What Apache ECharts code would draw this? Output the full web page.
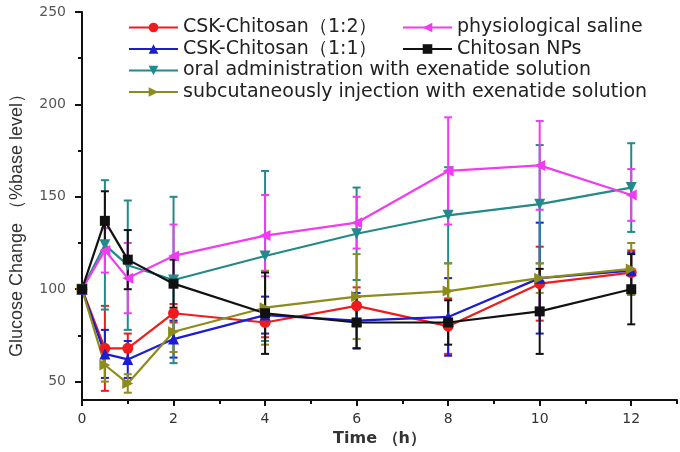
<!DOCTYPE html>
<html><head><meta charset="utf-8">
<script src="https://cdn.jsdelivr.net/npm/echarts@6/dist/echarts.min.js"></script>
<style>html,body{margin:0;padding:0;background:#fff}#c{width:680px;height:452px}</style>
</head><body><div id="c"></div>
<script>
const times = [0, 0.5, 1, 2, 4, 6, 8, 10, 12];
const yTickValues = [50, 100, 150, 200, 250];
const yMinorValues = [75, 125, 175, 225];
const xTickValues = [0, 2, 4, 6, 8, 10, 12];
const xMinorValues = [1, 3, 5, 7, 9, 11, 13];

const namesList = [
  'CSK-Chitosan（1:2）',
  'CSK-Chitosan（1:1）',
  'oral administration with exenatide solution',
  'subcutaneously injection with exenatide solution',
  'physiological saline',
  'Chitosan NPs'
];

const csk12 = [100, 68, 68, 87, 82, 91, 80, 103, 109];
const csk12Err = [0, 23, 8, 5, 8, 10, 15, 20, 12];
const csk11 = [100, 65, 62, 73, 86, 83, 85, 106, 110];
const csk11Err = [0, 13, 10, 10, 10, 15, 21, 30, 10];
const oral = [100, 124, 113, 105, 118, 130, 140, 146, 155];
const oralErr = [0, 35, 35, 45, 46, 25, 26, 32, 24];
const subq = [100, 59, 49, 77, 90, 96, 99, 106, 111];
const subqErr = [0, 9, 5, 11, 20, 23, 15, 8, 14];
const saline = [100, 121, 106, 118, 129, 136, 164, 167, 151];
const salineErr = [0, 12, 19, 17, 22, 14, 29, 24, 14];
const nps = [100, 137, 116, 103, 87, 82, 82, 88, 100];
const npsErr = [0, 16, 16, 13, 22, 14, 12, 23, 19];

const groups = [
  {name: namesList[0], vals: csk12, err: csk12Err, color: '#ee1c1c', symbol: 'circle', size: 11},
  {name: namesList[1], vals: csk11, err: csk11Err, color: '#1c1cd0', symbol: 'triangle', size: 11},
  {name: namesList[2], vals: oral, err: oralErr, color: '#23898a', symbol: 'path://M0,0 L10,0 L5,10 Z', size: 11},
  {name: namesList[3], vals: subq, err: subqErr, color: '#8c8c1c', symbol: 'path://M0,0 L10,5 L0,10 Z', size: 11},
  {name: namesList[4], vals: saline, err: salineErr, color: '#f03cf0', symbol: 'path://M10,0 L0,5 L10,10 Z', size: 11},
  {name: namesList[5], vals: nps, err: npsErr, color: '#111111', symbol: 'rect', size: 10}
];

const series = [];
groups.forEach(g => {
  series.push({
    type: 'custom',
    name: g.name + ' err',
    xAxisIndex: 0, yAxisIndex: 0,
    data: times.map((t, i) => [t, g.vals[i] - g.err[i], g.vals[i] + g.err[i]]),
    renderItem: function (params, api) {
      const x = api.value(0);
      const lo = api.coord([x, api.value(1)]);
      const hi = api.coord([x, api.value(2)]);
      const w = 4;
      const st = {stroke: g.color, lineWidth: 2};
      return {type: 'group', children: [
        {type: 'line', shape: {x1: lo[0], y1: lo[1], x2: hi[0], y2: hi[1]}, style: st},
        {type: 'line', shape: {x1: lo[0] - w, y1: lo[1], x2: lo[0] + w, y2: lo[1]}, style: st},
        {type: 'line', shape: {x1: hi[0] - w, y1: hi[1], x2: hi[0] + w, y2: hi[1]}, style: st}
      ]};
    },
    z: 2,
    silent: true
  });
});
groups.forEach(g => {
  series.push({
    type: 'line',
    name: g.name,
    xAxisIndex: 0, yAxisIndex: 0,
    data: times.map((t, i) => [t, g.vals[i]]),
    symbol: g.symbol,
    symbolSize: g.size,
    showAllSymbol: true,
    color: g.color,
    lineStyle: {width: 2.2, color: g.color},
    itemStyle: {color: g.color},
    z: 3,
    animation: false
  });
});

const legendText = {fontSize: 19, color: '#222', fontFamily: 'DejaVu Sans'};
const chart = echarts.init(document.getElementById('c'), null, {renderer: 'canvas'});
chart.setOption({
  animation: false,
  backgroundColor: '#fff',
  grid: {left: 79, right: 3, top: 12, bottom: 47, containLabel: false},
  legend: [
    {
      data: namesList.slice(0, 4), orient: 'vertical', left: 128, top: 18, padding: 0,
      itemWidth: 49, itemHeight: 12, itemGap: 2.5,
      textStyle: legendText
    },
    {
      data: namesList.slice(4), orient: 'vertical', left: 402, top: 18, padding: 0,
      itemWidth: 49, itemHeight: 12, itemGap: 2.5,
      textStyle: legendText
    }
  ],
  xAxis: [
    {
      type: 'value', min: 0, max: 13,
      name: 'Time （h）', nameLocation: 'middle', nameGap: 30,
      nameTextStyle: {fontSize: 16, fontWeight: 'bold', color: '#333', fontFamily: 'DejaVu Sans'},
      axisLine: {lineStyle: {color: '#111', width: 2}},
      axisTick: {customValues: xTickValues, length: 6, inside: false, lineStyle: {color: '#111', width: 2}},
      axisLabel: {customValues: xTickValues, fontSize: 14, color: '#333', margin: 12, fontFamily: 'DejaVu Sans'},
      splitLine: {show: false}
    },
    {
      type: 'value', min: 0, max: 13, position: 'bottom',
      axisLine: {show: false},
      axisTick: {customValues: xMinorValues, length: 4, lineStyle: {color: '#111', width: 2}},
      axisLabel: {show: false},
      splitLine: {show: false}
    }
  ],
  yAxis: [
    {
      type: 'value', min: 40, max: 250,
      name: 'Glucose Change （%base level）', nameLocation: 'middle', nameGap: 56,
      nameTextStyle: {fontSize: 18, color: '#333', fontFamily: 'Liberation Sans', padding: [0, 30, 0, 0]},
      axisLine: {show: true, lineStyle: {color: '#111', width: 2}},
      axisTick: {show: true, customValues: yTickValues, length: 7, lineStyle: {color: '#111', width: 2}},
      axisLabel: {customValues: yTickValues, fontSize: 14, color: '#555', margin: 16, fontFamily: 'DejaVu Sans'},
      splitLine: {show: false}
    },
    {
      type: 'value', min: 40, max: 250, position: 'left',
      axisLine: {show: false},
      axisTick: {show: true, customValues: yMinorValues, length: 4, lineStyle: {color: '#111', width: 2}},
      axisLabel: {show: false},
      splitLine: {show: false}
    }
  ],
  series: series
});
</script></body></html>
